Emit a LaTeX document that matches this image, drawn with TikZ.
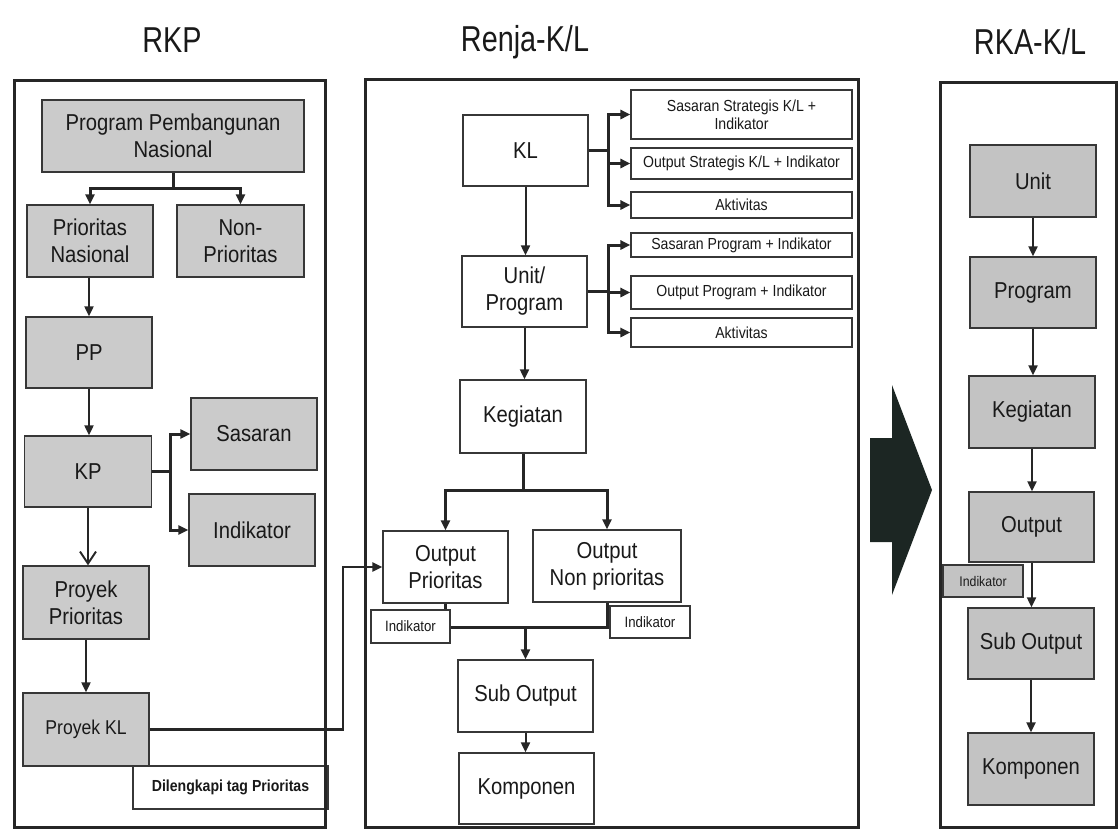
\documentclass[tikz,border=0pt]{standalone}
\usepackage{fontspec}
\setmainfont[FakeStretch=0.88]{Liberation Sans}
\newfontfamily\titlefont[FakeStretch=0.8]{Liberation Sans}
\usetikzlibrary{arrows.meta}
\definecolor{boxgray}{RGB}{203,203,203}
\definecolor{rgray}{RGB}{195,195,195}
\definecolor{edge}{RGB}{55,55,55}
\definecolor{bigarrow}{RGB}{28,38,35}
\tikzset{
  sz/.style 2 args={minimum width=#1pt, minimum height=#2pt},
  panel/.style={draw=black!85, line width=3pt},
  graybox/.style={draw=edge, line width=1.3pt, fill=boxgray, align=center, inner sep=0pt,
    text=black!90, font=\fontsize{23}{27}\selectfont},
  whitebox/.style={graybox, fill=white},
  note/.style={draw=edge, line width=1.1pt, fill=white, align=center, inner sep=0pt,
    text=black!90, font=\fontsize{16}{18}\selectfont},
  tagbox/.style={note, font=\bfseries\fontsize{16}{18}\selectfont},
  arr/.style={-{Triangle[length=10pt,width=9pt]}},
  link/.style={line width=2pt, draw=black!85, arr},
  heavy/.style={line width=3pt, draw=black!85},
  title/.style={text=black!90, font=\titlefont\fontsize{36}{40}\selectfont}
}
\begin{document}
\begin{tikzpicture}[x=1pt,y=-1pt]
  \useasboundingbox (0,0) rectangle (1118,830);

  \node[title] (trkp)   at (172,40)  {RKP};
  \node[title] (trenja) at (525,42)  {Renja-K/L};
  \node[title] (trka)   at (1030,42) {RKA-K/L};

  % RKP
  \node[graybox, sz={262}{72}] (ppn)   at (173,136)   {Program Pembangunan\\Nasional};
  \node[graybox, sz={126}{72}] (pn)    at (90,241)    {Prioritas\\Nasional};
  \node[graybox, sz={127}{72}] (nonp)  at (240.5,241) {Non-\\Prioritas};
  \node[graybox, sz={126}{71}] (pp)    at (89,352.5)  {PP};
  \node[graybox, sz={127}{71}] (kp)    at (88,471.5)  {KP};
  \node[graybox, sz={126}{72}] (sas)   at (254,434)   {Sasaran};
  \node[graybox, sz={126}{72}] (ind)   at (252,530)   {Indikator};
  \node[graybox, sz={126}{73}] (proyp) at (86,602.5)  {Proyek\\Prioritas};
  \node[graybox, sz={126}{73}, font=\fontsize{20}{24}\selectfont] (proykl) at (86,729.5) {Proyek KL};
  \node[tagbox, sz={195}{43}]  (tag)   at (230.5,787.5) {Dilengkapi tag Prioritas};

  % Renja-K/L
  \node[whitebox, sz={125}{71}] (kl)   at (525.5,150.5) {KL};
  \node[note, sz={221}{49}] (s1) at (741.5,114.5) {Sasaran Strategis K/L +\\Indikator};
  \node[note, sz={221}{31}] (s2) at (741.5,163.5) {Output Strategis K/L + Indikator};
  \node[note, sz={221}{26}] (s3) at (741.5,205)   {Aktivitas};
  \node[note, sz={221}{24}] (s4) at (741.5,245)   {Sasaran Program + Indikator};
  \node[note, sz={221}{33}] (s5) at (741.5,292.5) {Output Program + Indikator};
  \node[note, sz={221}{29}] (s6) at (741.5,332.5) {Aktivitas};
  \node[whitebox, sz={125}{71}] (unit) at (524.5,291.5) {Unit/\\Program};
  \node[whitebox, sz={126}{73}] (keg)  at (523,416.5)   {Kegiatan};
  \node[whitebox, sz={125}{72}] (op)   at (445.5,567)   {Output\\Prioritas};
  \node[whitebox, sz={148}{72}] (onp)  at (607,566)     {Output\\Non prioritas};
  \node[note, sz={79}{33}, font=\fontsize{15}{17}\selectfont] (indl) at (410.5,626.5) {Indikator};
  \node[note, sz={80}{32}, font=\fontsize{15}{17}\selectfont] (indr) at (650,622) {Indikator};
  \node[whitebox, sz={135}{72}] (sub)  at (525.5,696)   {Sub Output};
  \node[whitebox, sz={135}{71}] (komp) at (526.5,788.5) {Komponen};

  % RKA-K/L
  \node[graybox, fill=rgray, sz={126}{72}] (runit) at (1033,181)   {Unit};
  \node[graybox, fill=rgray, sz={126}{71}] (rprog) at (1033,292.5) {Program};
  \node[graybox, fill=rgray, sz={126}{72}] (rkeg)  at (1032,412)   {Kegiatan};
  \node[graybox, fill=rgray, sz={125}{70}] (rout)  at (1031.5,527) {Output};
  \node[graybox, fill=rgray, sz={80}{32}, font=\fontsize{14}{16}\selectfont] (rind) at (983,581) {Indikator};
  \node[graybox, fill=rgray, sz={126}{71}] (rsub)  at (1031,643.5) {Sub Output};
  \node[graybox, fill=rgray, sz={126}{72}] (rkomp) at (1031,769)   {Komponen};

  \draw[panel] (14,80) rectangle (325,827);
  \draw[panel] (365,79) rectangle (858,827);
  \draw[panel] (940,82) rectangle (1116,827);

  \coordinate (pb) at (173,188);
  \draw[heavy] (ppn) -- (pb);
  \draw[heavy, arr] (pb) -| (pn);
  \draw[heavy, arr] (pb) -| (nonp);
  \draw[link] (pn.south -| pp) -- (pp);
  \draw[link] (pp.south) -- (pp.south |- kp.north);
  \coordinate (kb) at (170,471.5);
  \draw[heavy] (kp) -- (kb);
  \draw[heavy, arr] (kb) |- (sas);
  \draw[heavy, arr] (kb) |- (ind);
  \draw[link, -{Straight Barb[length=12pt,width=16pt]}] (kp.south) -- (kp.south |- proyp.north);
  \draw[link] (proyp) -- (proykl);
  \coordinate (jog) at (343,567);
  \draw[heavy, line width=2.5pt, arr] (proykl.east) -| (jog) -- (op.west);

  \coordinate (klb) at (608,150.5);
  \draw[heavy] (kl) -- (klb);
  \foreach \s in {s1,s2,s3} \draw[heavy, arr] (klb) |- (\s);
  \draw[link] (kl.south) -- (kl.south |- unit.north);
  \coordinate (ub) at (608,291.5);
  \draw[heavy] (unit) -- (ub);
  \foreach \s in {s4,s5,s6} \draw[heavy, arr] (ub) |- (\s);
  \draw[link] (unit.south) -- (unit.south |- keg.north);
  \coordinate (kgb) at (523,490);
  \draw[heavy] (keg) -- (kgb);
  \draw[heavy, arr] (kgb) -| (op);
  \draw[heavy, arr] (kgb) -| (onp);
  \coordinate (ob) at (525.5,627);
  \draw[heavy] (op.south) -- (op.south |- indl.north);
  \draw[heavy] (indl.east |- ob) -- (ob);
  \draw[heavy] (onp) |- (ob);
  \draw[heavy, arr] (ob) -- (sub);
  \draw[link] (sub.south) -- (sub.south |- komp.north);

  \draw[link] (runit.south) -- (runit.south |- rprog.north);
  \draw[link] (rprog.south) -- (rprog.south |- rkeg.north);
  \draw[link] (rkeg.south) -- (rkeg.south |- rout.north);
  \draw[link] (rout.south) -- (rout.south |- rsub.north);
  \draw[link] (rsub) -- (rkomp);

  \fill[bigarrow] (870,438) -- (892,438) -- (892,385) -- (932,490)
    -- (892,595) -- (892,542) -- (870,542) -- cycle;
\end{tikzpicture}
\end{document}
